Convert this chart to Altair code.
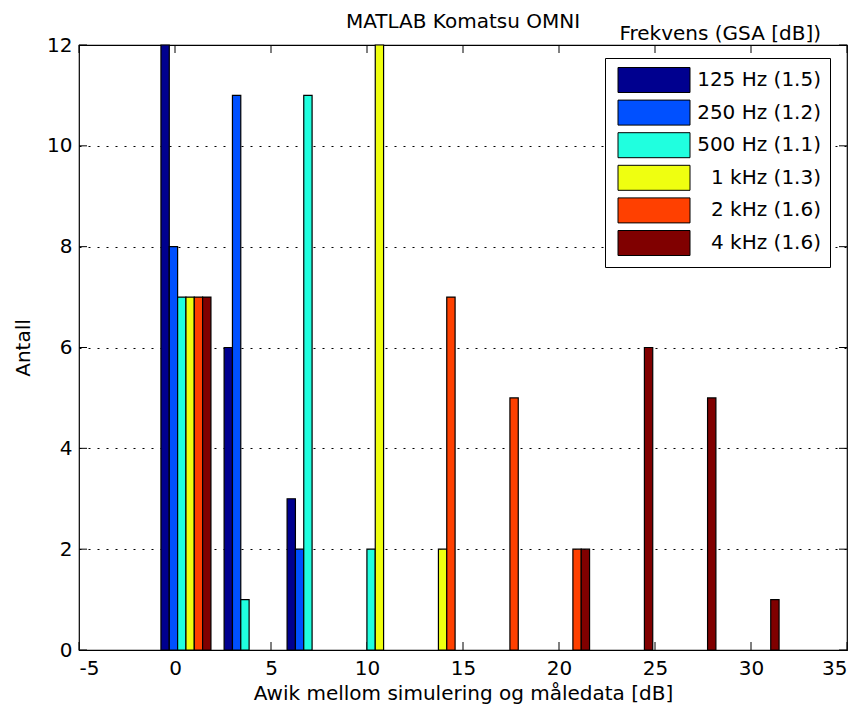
import altair as alt
import pandas as pd

# ---- data ----
bin_centers = [0.57, 3.86, 7.14, 10.43, 13.72, 17.01, 20.29, 23.58, 26.87, 30.16]
series = ["125 Hz (1.5)", "250 Hz (1.2)", "500 Hz (1.1)", "1 kHz (1.3)", "2 kHz (1.6)", "4 kHz (1.6)"]
counts_125 = [12, 6, 3, 0, 0, 0, 0, 0, 0, 0]
counts_250 = [8, 11, 2, 0, 0, 0, 0, 0, 0, 0]
counts_500 = [7, 1, 11, 2, 0, 0, 0, 0, 0, 0]
counts_1k = [7, 0, 0, 12, 2, 0, 0, 0, 0, 0]
counts_2k = [7, 0, 0, 0, 7, 5, 2, 0, 0, 0]
counts_4k = [7, 0, 0, 0, 0, 0, 2, 6, 5, 1]
colors = ["#00008F", "#0050FF", "#20FFDF", "#EFFF10", "#FF4000", "#800000"]
x_ticks = [-5, 0, 5, 10, 15, 20, 25, 30, 35]
y_ticks = [0, 2, 4, 6, 8, 10, 12]
title_text = "MATLAB Komatsu OMNI"
legend_title_text = "Frekvens (GSA [dB])"
x_title = "Awik mellom simulering og måledata [dB]"
y_title = "Antall"

BAR_W = 0.434  # width of one bar in data units (grouped bars)
W, H = 768, 605
FONT = "DejaVu Sans"
FS = 20
FS_TICK = 20

all_counts = [counts_125, counts_250, counts_500, counts_1k, counts_2k, counts_4k]
rows = []
for k, (name, counts) in enumerate(zip(series, all_counts)):
    for c, n in zip(bin_centers, counts):
        if n > 0:
            x0 = c + (k - 3) * BAR_W
            rows.append({"series": name, "x0": x0, "x1": x0 + BAR_W, "count": n})
bars_df = pd.DataFrame(rows)

xscale = alt.Scale(domain=[-5, 35], nice=False, zero=False)
yscale = alt.Scale(domain=[0, 12], nice=False, zero=True)

xaxis = alt.Axis(values=x_ticks, title=x_title,
                 grid=False, ticks=False, tickSize=0, domain=False, labelPadding=8,
                 titlePadding=5, labelExpr="'' + datum.value")
yaxis = alt.Axis(values=y_ticks, title=y_title, grid=True, gridDash=[2, 7],
                 gridColor="#000000", gridWidth=1, ticks=False, tickSize=0, domain=False,
                 labelPadding=7, titlePadding=13, labelExpr="'' + datum.value")

bars = alt.Chart(bars_df).mark_bar(stroke="black", strokeWidth=1.2, opacity=1).encode(
    x=alt.X("x0:Q", scale=xscale, axis=xaxis),
    x2="x1:Q",
    y=alt.Y("count:Q", scale=yscale, axis=yaxis),
    y2=alt.datum(0),
    color=alt.Color("series:N", scale=alt.Scale(domain=series, range=colors),
                    legend=alt.Legend(
                        title=None, orient="none", legendX=526, legendY=13,
                        direction="vertical",
                        symbolType="M-2.88,-1H2.88V1H-2.88Z", symbolSize=625,
                        symbolStrokeColor="black", symbolStrokeWidth=1,
                        symbolOpacity=1, symbolOffset=27,
                        labelAlign="right", labelOffset=154, labelFontSize=FS,
                        labelFont=FONT, labelColor="black", labelLimit=300,
                        strokeColor="black", fillColor="white", padding=9,
                        rowPadding=2.6)),
)

xt_df = pd.DataFrame({"t": x_ticks})
yt_df = pd.DataFrame({"t": y_ticks})
TL = 8
x_bottom = alt.Chart(xt_df).mark_rule(color="black").encode(
    x=alt.X("t:Q", scale=xscale, axis=xaxis), y=alt.value(H), y2=alt.value(H - TL))
x_top = alt.Chart(xt_df).mark_rule(color="black").encode(
    x=alt.X("t:Q", scale=xscale, axis=xaxis), y=alt.value(0), y2=alt.value(TL))
y_left = alt.Chart(yt_df).mark_rule(color="black").encode(
    y=alt.Y("t:Q", scale=yscale, axis=yaxis), x=alt.value(0), x2=alt.value(TL))
y_right = alt.Chart(yt_df).mark_rule(color="black").encode(
    y=alt.Y("t:Q", scale=yscale, axis=yaxis), x=alt.value(W), x2=alt.value(W - TL))

one = pd.DataFrame({"a": [0]})
legend_title = alt.Chart(one).mark_text(
    align="right", baseline="alphabetic", font=FONT, fontSize=FS, color="black"
).encode(x=alt.value(742), y=alt.value(-5), text=alt.value(legend_title_text))
main_title = alt.Chart(one).mark_text(
    align="center", baseline="alphabetic", font=FONT, fontSize=FS, color="black"
).encode(x=alt.value(W / 2), y=alt.value(-17), text=alt.value(title_text))

chart = alt.layer(x_bottom, x_top, y_left, y_right, bars, legend_title, main_title).properties(
    width=W, height=H,
    autosize=alt.AutoSizeParams(type="none"),
    padding={"left": 71, "top": 37, "right": 5, "bottom": 62},
    background="white",
).configure_view(stroke="black", strokeWidth=1.2).configure_axis(
    labelFont=FONT, labelFontSize=FS_TICK, labelColor="black",
    titleFont=FONT, titleFontSize=FS, titleColor="black", titleFontWeight="normal",
)

chart.save("out.html", embed_options={"renderer": "svg", "actions": False})
